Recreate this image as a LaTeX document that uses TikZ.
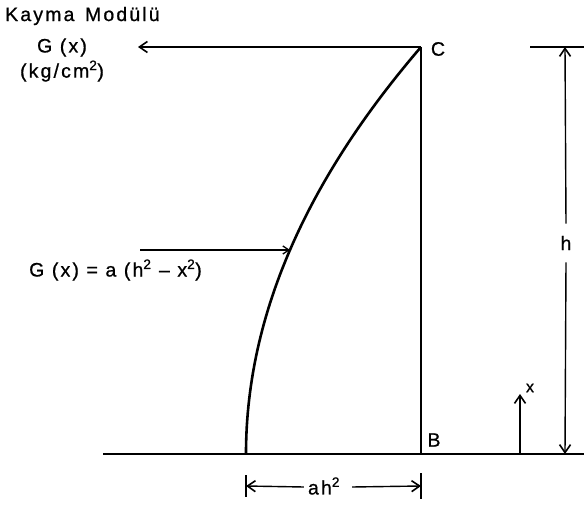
\documentclass[tikz,border=0pt]{standalone}
\usepackage{fontspec}
\setmainfont{Liberation Sans}[LetterSpace=11,FakeBold=0.8]
\usetikzlibrary{arrows.meta}
\begin{document}
\begin{tikzpicture}[x=1pt,y=-1pt,
  lbl/.style={font=\fontsize{19.5}{21}\selectfont, inner sep=0pt},
  thick line/.style={line width=1.9pt},
  dimline/.style={line width=1.4pt},
  barb/.style={-{Straight Barb[length=8pt,width=11pt,line width=1.6pt]}},
]
\useasboundingbox[fill=white] (0,0) rectangle (584,505);
% points
\coordinate (C) at (421,47);
\coordinate (B) at (421,454);
\coordinate (groundL) at (103,454);
\coordinate (groundR) at (584,454);
\coordinate (gcurve) at (290,250);
\coordinate (gstart) at (140,250);
% texts
\node[lbl, anchor=west] (title) at (5,16) {Kayma\hspace{3pt} Modülü};
\node[lbl, align=center] (Gx) at (62,60) {G (x)\\[3pt](kg/cm\textsuperscript{2})};
\node[lbl] (Clabel) at (438,49) {C};
\node[lbl] (Blabel) at (434,440) {B};
\node[lbl, anchor=west] (formula) at (29,270) {G (x) = a (h\textsuperscript{2} – x\textsuperscript{2})};
\node[lbl] (hlabel) at (566,243) {h};
\node[lbl, font=\fontsize{16}{18}\selectfont] (xlabel) at (530,388) {x};
\node[lbl] (ah) at (324,486) {ah\textsuperscript{2}};
% structure
\draw[thick line] (C) -- (B);
\draw[thick line] (groundL) -- (groundR);
\draw[line width=2.6pt] plot[domain=0:1, samples=60] ({421-175*(1-\x*\x)},{454-407*\x});
% G(x) arrow at top
\coordinate (gxtip) at (138,47);
\draw[dimline, barb] (C) -- (gxtip);
% curve label arrow
\draw[dimline, -{Straight Barb[length=6pt,width=8pt,line width=1.3pt]}] (gstart) -- (gcurve);
% right dimension h
\coordinate (topTickL) at (530,47);
\coordinate (topTickR) at (584,47);
\coordinate (hTop) at (565,47);
\coordinate (hBot) at (565,454);
\draw[dimline] (topTickL) -- (topTickR);
\draw[dimline, barb] (hlabel.north) ++(0,-12) -- (hTop);
\draw[dimline, barb] (hlabel.south) ++(0,12) -- (hBot);
% x arrow
\coordinate (xBase) at (520,454);
\coordinate (xTip) at (520,394);
\draw[dimline, barb] (xBase) -- (xTip);
% bottom dimension ah^2
\coordinate (tL1) at (246,475);
\coordinate (tL2) at (246,497);
\coordinate (tR1) at (421,473);
\coordinate (tR2) at (421,499);
\draw[dimline] (tL1) -- (tL2);
\draw[dimline] (tR1) -- (tR2);
\coordinate (dL) at (246,486);
\coordinate (dR) at (421,486);
\draw[dimline, barb] (ah.west) ++(-4,1) -- (dL);
\draw[dimline, barb] (ah.east) ++(12,1) -- (dR);
\end{tikzpicture}
\end{document}
